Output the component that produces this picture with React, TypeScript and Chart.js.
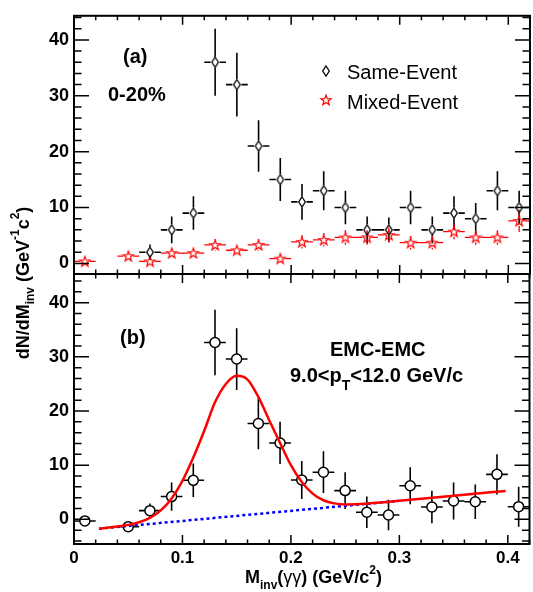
import React, { useEffect, useRef } from 'react';
import { Chart, registerables } from 'chart.js';

Chart.register(...registerables);

const FONT = '"Liberation Sans", Arial, Helvetica, sans-serif';

// ---------------- data ----------------
// panel (a): 0-20%
const sameEventMass = [0.07, 0.09, 0.11, 0.13, 0.15, 0.17, 0.19, 0.21, 0.23, 0.25, 0.27, 0.29, 0.31, 0.33, 0.35, 0.37, 0.39, 0.41];
const sameEventYield = [2, 6, 9, 36, 32, 21, 15, 11, 13, 10, 6, 6, 10, 6, 9, 8, 13, 10];
const sameEventErr = [1.4, 2.4, 3, 6, 5.7, 4.6, 3.85, 3.2, 3.5, 3, 2.4, 2.2, 3, 2.4, 3, 2.8, 3.5, 3];

const mixedEventMass = [0.01, 0.05, 0.07, 0.09, 0.11, 0.13, 0.15, 0.17, 0.19, 0.21, 0.23, 0.25, 0.27, 0.29, 0.31, 0.33, 0.35, 0.37, 0.39, 0.41];
const mixedEventYield = [0.35, 1.3, 0.35, 1.85, 1.85, 3.3, 2.35, 3.3, 0.85, 3.85, 4.2, 4.65, 4.65, 5.1, 3.7, 3.7, 5.7, 4.65, 4.65, 7.6];
const mixedEventErr = [0.5, 0.6, 0.7, 0.9, 0.9, 1.0, 0.9, 1.0, 0.7, 1.2, 1.2, 1.3, 1.3, 1.3, 1.2, 1.2, 1.4, 1.3, 1.3, 2.0];

// panel (b): EMC-EMC, 9.0<pT<12.0 GeV/c
const emcMass = [0.01, 0.05, 0.07, 0.09, 0.11, 0.13, 0.15, 0.17, 0.19, 0.21, 0.23, 0.25, 0.27, 0.29, 0.31, 0.33, 0.35, 0.37, 0.39, 0.41];
const emcYield = [-0.3, -1.36, 1.6, 4.2, 7.2, 32.65, 29.6, 17.7, 14.1, 7.25, 8.7, 5.3, 1.3, 0.8, 6.2, 2.27, 3.38, 3.25, 8.3, 2.33];
const emcErr = [0.5, 0.5, 1.3, 2.6, 3.1, 6.05, 5.7, 4.75, 3.9, 3.5, 3.85, 3.4, 2.9, 2.8, 3.4, 3.0, 3.4, 3.2, 3.7, 3.7];

const binHalfWidth = 0.01;

// fit curve (red) and linear background (blue dotted)
const fitMass = [0.023, 0.04, 0.05, 0.06, 0.07, 0.08, 0.09, 0.1, 0.11, 0.12, 0.13, 0.14, 0.15, 0.16, 0.17, 0.18, 0.19, 0.2, 0.21, 0.22, 0.23, 0.24, 0.25, 0.26, 0.28, 0.3, 0.35, 0.398];
const fitYield = [-1.72, -1.34, -1.03, -0.55, 0.26, 1.64, 3.86, 7.11, 11.4, 16.3, 21.6, 25.0, 26.5, 25.8, 22.6, 18.3, 14.1, 10.0, 6.89, 4.75, 3.52, 2.94, 2.75, 2.78, 3.05, 3.42, 4.35, 5.24];
const bgMass = [0.023, 0.3];
const bgYield = [-1.73, 3.42];

const xTickValues = [0, 0.1, 0.2, 0.3, 0.4];
const xTickLabels = ['0', '0.1', '0.2', '0.3', '0.4'];
const yTickValues = [0, 10, 20, 30, 40];
const yTickLabels = ['0', '10', '20', '30', '40'];

// ---------------- helpers ----------------
const toPts = (xs: number[], ys: number[]) => xs.map((x, i) => ({ x, y: ys[i] }));

function makeDiamond(): HTMLCanvasElement {
  const c = document.createElement('canvas');
  c.width = 10; c.height = 14;
  const g = c.getContext('2d')!;
  g.strokeStyle = '#000';
  g.lineWidth = 1.3;
  g.beginPath();
  g.moveTo(5, 2); g.lineTo(8.3, 7); g.lineTo(5, 12); g.lineTo(1.7, 7);
  g.closePath();
  g.stroke();
  return c;
}

function makeStar(): HTMLCanvasElement {
  const c = document.createElement('canvas');
  c.width = 14; c.height = 14;
  const g = c.getContext('2d')!;
  g.strokeStyle = '#ff0000';
  g.lineWidth = 1.2;
  g.beginPath();
  const R = 5.4, r = 2.2, cx = 7, cy = 7.4;
  for (let k = 0; k < 10; k++) {
    const rad = k % 2 === 0 ? R : r;
    const ang = -Math.PI / 2 + (k * Math.PI) / 5;
    const px = cx + rad * Math.cos(ang), py = cy + rad * Math.sin(ang);
    if (k === 0) g.moveTo(px, py); else g.lineTo(px, py);
  }
  g.closePath();
  g.stroke();
  return c;
}

type Seg = { t: string; size?: number; dy?: number; weight?: string };
function drawRich(ctx: CanvasRenderingContext2D, segs: Seg[], x: number, y: number, base: number, weight = 'bold', align = 'left') {
  const f = (s: Seg) => `${s.weight ?? weight} ${s.size ?? base}px ${FONT}`;
  let w = 0;
  for (const s of segs) { ctx.font = f(s); w += ctx.measureText(s.t).width; }
  let cx = align === 'center' ? x - w / 2 : x;
  ctx.textAlign = 'left';
  ctx.textBaseline = 'alphabetic';
  ctx.fillStyle = '#000';
  for (const s of segs) {
    ctx.font = f(s);
    ctx.fillText(s.t, cx, y + (s.dy ?? 0));
    cx += ctx.measureText(s.t).width;
  }
}

const framePlugin = {
  id: 'rootFrame',
  afterDraw(chart: any) {
    const { ctx, chartArea: a } = chart;
    const xs = chart.scales.x, ys = chart.scales.y;
    ctx.save();
    ctx.strokeStyle = '#000';
    ctx.lineWidth = 1.5;
    ctx.beginPath();
    for (let k = 0; k <= 25; k++) {
      const px = xs.getPixelForValue(k * 0.02);
      if (px < a.left - 0.5 || px > a.right + 0.5) continue;
      const len = k % 5 === 0 ? 9 : 4.5;
      ctx.moveTo(px, a.bottom); ctx.lineTo(px, a.bottom - len);
      ctx.moveTo(px, a.top); ctx.lineTo(px, a.top + len);
    }
    for (let k = Math.ceil(ys.min / 2); k <= Math.floor(ys.max / 2); k++) {
      const py = ys.getPixelForValue(k * 2);
      const len = k % 5 === 0 ? 15 : 7.5;
      ctx.moveTo(a.left, py); ctx.lineTo(a.left + len, py);
      ctx.moveTo(a.right, py); ctx.lineTo(a.right - len, py);
    }
    ctx.stroke();
    ctx.lineWidth = 2;
    ctx.strokeRect(a.left, a.top, a.right - a.left, a.bottom - a.top);
    ctx.restore();
  },
};

const errorBarPlugin = {
  id: 'errorBars',
  beforeDatasetsDraw(chart: any) {
    const { ctx, chartArea: a } = chart;
    const xs = chart.scales.x, ys = chart.scales.y;
    ctx.save();
    ctx.beginPath();
    ctx.rect(a.left, a.top, a.right - a.left, a.bottom - a.top);
    ctx.clip();
    chart.data.datasets.forEach((ds: any) => {
      if (!ds.errY) return;
      ctx.strokeStyle = ds.errColor;
      ctx.lineWidth = ds.errWidth;
      ctx.beginPath();
      ds.data.forEach((p: any, j: number) => {
        const px = xs.getPixelForValue(p.x);
        const py = ys.getPixelForValue(p.y);
        const xl = xs.getPixelForValue(p.x - ds.errX);
        const xr = xs.getPixelForValue(p.x + ds.errX);
        const yt = ys.getPixelForValue(p.y + ds.errY[j]);
        const yb = ys.getPixelForValue(p.y - ds.errY[j]);
        if (px - xl > ds.gapX) { ctx.moveTo(xl, py); ctx.lineTo(px - ds.gapX, py); }
        if (xr - px > ds.gapX) { ctx.moveTo(px + ds.gapX, py); ctx.lineTo(xr, py); }
        if (py - yt > ds.gapY) { ctx.moveTo(px, yt); ctx.lineTo(px, py - ds.gapY); }
        if (yb - py > ds.gapY) { ctx.moveTo(px, py + ds.gapY); ctx.lineTo(px, yb); }
      });
      ctx.stroke();
    });
    ctx.restore();
  },
};

const yAxis = (min: number, max: number) => ({
  type: 'linear',
  min,
  max,
  bounds: 'data',
  afterFit: (s: any) => { s.width = 74; },
  afterBuildTicks: (s: any) => { s.ticks = yTickValues.map((v) => ({ value: v })); },
  grid: { display: false, drawTicks: false },
  border: { display: false },
  ticks: {
    color: '#000',
    padding: 5,
    font: { family: FONT, size: 18, weight: 'bold' },
    callback: (_v: any, i: number) => yTickLabels[i],
  },
});

export default function App() {
  const refA = useRef<HTMLCanvasElement>(null);
  const refB = useRef<HTMLCanvasElement>(null);

  useEffect(() => {
    const diamond = makeDiamond();
    const star = makeStar();

    const textA = {
      id: 'textA',
      afterDraw(chart: any) {
        const ctx = chart.ctx;
        ctx.save();
        drawRich(ctx, [{ t: '(a)' }], 123, 63, 20);
        drawRich(ctx, [{ t: '0-20%' }], 108, 101, 20);
        ctx.drawImage(diamond, 326 - diamond.width / 2, 71 - diamond.height / 2);
        ctx.drawImage(star, 326 - star.width / 2, 100 - star.height / 2);
        drawRich(ctx, [{ t: 'Same-Event' }], 347, 79, 20, 'normal');
        drawRich(ctx, [{ t: 'Mixed-Event' }], 347, 109, 20, 'normal');
        ctx.restore();
      },
    };

    const textB = {
      id: 'textB',
      afterDraw(chart: any) {
        const ctx = chart.ctx;
        ctx.save();
        drawRich(ctx, [{ t: '(b)' }], 120, 344, 20);
        drawRich(ctx, [{ t: 'EMC-EMC' }], 330, 356, 20);
        drawRich(ctx, [{ t: '9.0<p' }, { t: 'T', size: 14, dy: 8 }, { t: '<12.0 GeV/c' }], 290, 382, 20);
        drawRich(
          ctx,
          [
            { t: 'M' },
            { t: 'inv', size: 12, dy: 6 },
            { t: '(' },
            { t: 'γγ', weight: 'normal' },
            { t: ')' },
            { t: ' (GeV/c' },
            { t: '2', size: 12, dy: -9 },
            { t: ')' },
          ],
          245,
          583,
          18,
        );
        ctx.translate(29, 283);
        ctx.rotate(-Math.PI / 2);
        drawRich(
          ctx,
          [
            { t: 'dN/dM' },
            { t: 'inv', size: 12, dy: 5 },
            { t: ' (GeV' },
            { t: '-1', size: 12, dy: -10 },
            { t: 'c' },
            { t: '2', size: 12, dy: -10 },
            { t: ')' },
          ],
          0,
          0,
          18,
          'bold',
          'center',
        );
        ctx.restore();
      },
    };

    const common = {
      responsive: false,
      animation: false,
      devicePixelRatio: 1,
      events: [],
      plugins: { legend: { display: false }, tooltip: { enabled: false } },
    };

    const chartA = new Chart(refA.current!, {
      type: 'scatter',
      data: {
        datasets: [
          {
            label: 'Same-Event',
            data: toPts(sameEventMass, sameEventYield),
            pointStyle: diamond,
            pointRadius: 5,
            showLine: false,
            order: 1,
            errY: sameEventErr, errX: binHalfWidth, errColor: '#000', errWidth: 1.6, gapX: 4.5, gapY: 5.5,
          } as any,
          {
            label: 'Mixed-Event',
            data: toPts(mixedEventMass, mixedEventYield),
            pointStyle: star,
            pointRadius: 5,
            showLine: false,
            order: 2,
            errY: mixedEventErr, errX: binHalfWidth, errColor: '#ff0000', errWidth: 1.3, gapX: 5, gapY: 5,
          } as any,
        ],
      },
      options: {
        ...common,
        layout: { padding: { top: 6, bottom: 592 - 274, left: 0, right: 0 } },
        scales: {
          x: { type: 'linear', min: 0, max: 0.42, display: false },
          y: yAxis(-1.9, 44.31),
        },
      } as any,
      plugins: [errorBarPlugin, framePlugin, textA],
    });

    const chartB = new Chart(refB.current!, {
      type: 'scatter',
      data: {
        datasets: [
          {
            label: 'fit',
            data: toPts(fitMass, fitYield),
            showLine: true,
            borderColor: '#ff0000',
            borderWidth: 2.5,
            pointRadius: 0,
            cubicInterpolationMode: 'monotone',
            fill: false,
            order: 0,
          } as any,
          {
            label: 'background',
            data: toPts(bgMass, bgYield),
            showLine: true,
            borderColor: '#0000ff',
            borderWidth: 2.5,
            borderDash: [3, 3],
            pointRadius: 0,
            fill: false,
            order: 1,
          } as any,
          {
            label: 'EMC-EMC',
            data: toPts(emcMass, emcYield),
            pointStyle: 'circle',
            pointRadius: 5,
            pointBorderWidth: 1.5,
            pointBorderColor: '#000',
            pointBackgroundColor: 'rgba(0,0,0,0)',
            showLine: false,
            order: 2,
            errY: emcErr, errX: binHalfWidth, errColor: '#000', errWidth: 1.6, gapX: 5, gapY: 5,
          } as any,
        ],
      },
      options: {
        ...common,
        layout: { padding: { top: 274, bottom: 0, left: 0, right: 0 } },
        scales: {
          x: {
            type: 'linear',
            min: 0,
            max: 0.42,
            bounds: 'data',
            afterFit: (s: any) => { s.height = 48; },
            afterBuildTicks: (s: any) => { s.ticks = xTickValues.map((v) => ({ value: v })); },
            grid: { display: false, drawTicks: false },
            border: { display: false },
            ticks: {
              color: '#000',
              padding: 4,
              maxRotation: 0,
              autoSkip: false,
              font: { family: FONT, size: 17, weight: 'bold' },
              callback: (_v: any, i: number) => xTickLabels[i],
            },
          },
          y: yAxis(-4.56, 45.3),
        },
      } as any,
      plugins: [errorBarPlugin, framePlugin, textB],
    });

    return () => {
      chartA.destroy();
      chartB.destroy();
    };
  }, []);

  return (
    <div style={{ position: 'fixed', left: 0, top: 0, width: 533, height: 592, overflow: 'hidden', background: '#fff' }}>
      <canvas ref={refA} width={536} height={592} style={{ position: 'absolute', left: 0, top: 0 }} />
      <canvas ref={refB} width={536} height={592} style={{ position: 'absolute', left: 0, top: 0 }} />
    </div>
  );
}
